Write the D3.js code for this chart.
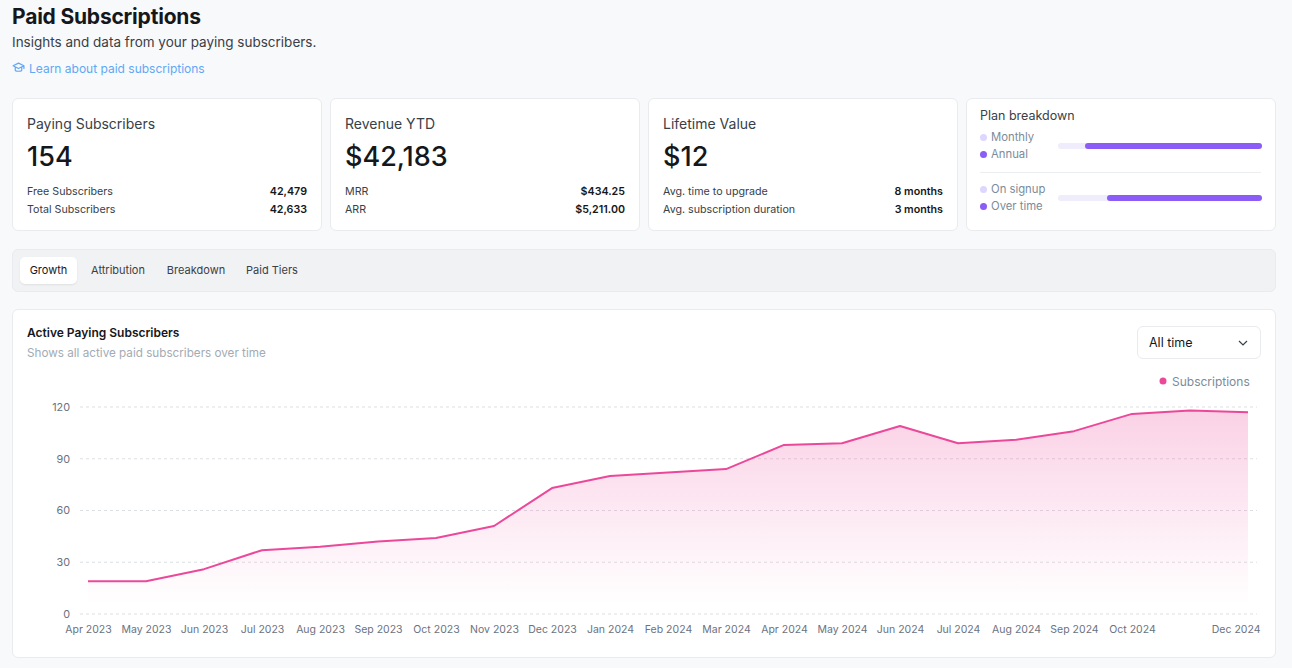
<!DOCTYPE html>
<html>
<head>
<meta charset="utf-8">
<script src="https://cdn.jsdelivr.net/npm/d3@7"></script>
<style>
  body { margin: 0; background: #f8f9fb; font-family: Inter, "Noto Sans", sans-serif; color: #15171a; }
  .page { position: relative; width: 1292px; height: 668px; overflow: hidden; }
  .abs { position: absolute; }
  h1 { position: absolute; left: 12px; top: 4px; margin: 0; font-size: 21px; font-weight: 700; letter-spacing: -0.2px; }
  .sub { left: 12px; top: 34px; font-size: 13.5px; color: #394047; }
  .link { left: 12px; top: 61px; font-size: 12px; color: #5fa8f5; }
  .card { background: #fff; border: 1px solid #e9ebee; border-radius: 6px; box-sizing: border-box; }
  .ctitle { font-size: 14px; color: #394047; }
  .big { font-size: 27px; font-weight: 500; color: #15171a; }
  .row { font-size: 10.7px; color: #394047; display: flex; justify-content: space-between; }
  .row b { font-weight: 600; color: #15171a; }
  .tabs { left: 12px; top: 249px; width: 1264px; height: 43px; background: #f1f2f4; border: 1px solid #e9ebee; border-radius: 6px; box-sizing: border-box; }
  .tab { position: absolute; top: 7px; height: 27px; line-height: 27px; font-size: 11px; color: #394047; text-align: center; }
  .tab.active { background: #fff; border-radius: 5px; box-shadow: 0 1px 2px rgba(0,0,0,0.08); color: #15171a; }
  .leg { font-size: 11.3px; color: #7c8b9a; }
  .dot { display: inline-block; width: 7px; height: 7px; border-radius: 50%; margin-right: 4px; vertical-align: 0; }
  svg.chart { position: absolute; left: 0; top: 0; }
</style>
</head>
<body>
<div class="page" id="page">
  <h1>Paid Subscriptions</h1>
  <div class="abs sub">Insights and data from your paying subscribers.</div>
  <div class="abs link">
    <svg width="13" height="12" viewBox="0 0 12 11" style="vertical-align:-1px;margin-right:4px"><path d="M6 1 L11 3.5 L6 6 L1 3.5 Z M3 4.6 V7.5 C3 8.8 9 8.8 9 7.5 V4.6 M11 3.5 V6.5" fill="none" stroke="#5fa8f5" stroke-width="1.1" stroke-linejoin="round"/></svg>Learn about paid subscriptions
  </div>
  <div id="cards"></div>
  <div class="abs tabs" id="tabs"></div>
  <div class="abs card" style="left:12px;top:309px;width:1264px;height:349px"></div>
  <div class="abs" style="left:27px;top:325px;font-size:12px;font-weight:600">Active Paying Subscribers</div>
  <div class="abs" style="left:27px;top:346px;font-size:11.7px;color:#a3abb4">Shows all active paid subscribers over time</div>
  <div class="abs card" style="left:1137px;top:326px;width:124px;height:33px;border-radius:6px;font-size:12.5px;line-height:31px;padding-left:11px">All time
    <svg width="10" height="6" style="position:absolute;right:12px;top:13px"><path d="M1 1 L5 5 L9 1" fill="none" stroke="#394047" stroke-width="1.2"/></svg>
  </div>
</div>
<script>
// stat cards
const statTitles = ['Paying Subscribers', 'Revenue YTD', 'Lifetime Value'];
const statValues = ['154', '$42,183', '$12'];
const statRowLabels = [
  ['Free Subscribers', 'Total Subscribers'],
  ['MRR', 'ARR'],
  ['Avg. time to upgrade', 'Avg. subscription duration']
];
const statRowValues = [
  ['42,479', '42,633'],
  ['$434.25', '$5,211.00'],
  ['8 months', '3 months']
];

// plan breakdown (share of the light segment, %)
const planGroups = [['Monthly', 'Annual'], ['On signup', 'Over time']];
const planLightShare = [13, 24];

const tabNames = ['Growth', 'Attribution', 'Breakdown', 'Paid Tiers'];

// chart data
const months = ['Apr 2023', 'May 2023', 'Jun 2023', 'Jul 2023', 'Aug 2023', 'Sep 2023', 'Oct 2023',
  'Nov 2023', 'Dec 2023', 'Jan 2024', 'Feb 2024', 'Mar 2024', 'Apr 2024', 'May 2024', 'Jun 2024',
  'Jul 2024', 'Aug 2024', 'Sep 2024', 'Oct 2024', 'Nov 2024', 'Dec 2024'];
const subscriptions = [19, 19, 26, 37, 39, 42, 44, 51, 73, 80, 82, 84, 98, 99, 109, 99, 101, 106, 116, 118, 117];
const yTicks = [0, 30, 60, 90, 120];

const pink = '#ec4899';
const page = d3.select('#page');

// cards
const cardW = 310, cardGap = 8;
statTitles.forEach((t, i) => {
  const c = page.append('div').attr('class', 'abs card')
    .style('left', (12 + i * (cardW + cardGap)) + 'px').style('top', '98px')
    .style('width', cardW + 'px').style('height', '133px');
  c.append('div').attr('class', 'abs ctitle').style('left', '14px').style('top', '16px').text(t);
  c.append('div').attr('class', 'abs big').style('left', '14px').style('top', '41px').text(statValues[i]);
  statRowLabels[i].forEach((l, j) => {
    const r = c.append('div').attr('class', 'abs row')
      .style('left', '14px').style('right', '14px').style('top', (86 + j * 18) + 'px');
    r.append('span').text(l);
    r.append('b').text(statRowValues[i][j]);
  });
});

const plan = page.append('div').attr('class', 'abs card')
  .style('left', '966px').style('top', '98px').style('width', '310px').style('height', '133px');
plan.append('div').attr('class', 'abs').style('left', '13px').style('top', '9px')
  .style('font-size', '12.5px').style('color', '#394047').text('Plan breakdown');
plan.append('div').attr('class', 'abs').style('left', '13px').style('right', '14px').style('top', '73px')
  .style('height', '1px').style('background', '#eceef0');

const barScale = d3.scaleLinear().domain([0, 100]).range([0, 204]);
planGroups.forEach((g, i) => {
  const top = 31 + i * 52;
  g.forEach((name, j) => {
    plan.append('div').attr('class', 'abs leg').style('left', '13px').style('top', (top + j * 17) + 'px')
      .html(`<span class="dot" style="background:${j ? '#8b5cf6' : '#ddd6fe'}"></span>${name}`);
  });
  const b = plan.append('div').attr('class', 'abs')
    .style('left', '91px').style('top', (top + 13) + 'px').style('width', barScale(100) + 'px')
    .style('height', '6px').style('border-radius', '3px').style('background', '#efecfb');
  b.append('div').attr('class', 'abs').style('left', barScale(planLightShare[i]) + 'px').style('top', 0)
    .style('width', (barScale(100) - barScale(planLightShare[i])) + 'px').style('height', '6px')
    .style('border-radius', '3px').style('background', '#8b5cf6');
});

// tabs
const tabLeft = [7, 70, 148, 226], tabWidth = [57, 70, 70, 66];
d3.select('#tabs').selectAll('div').data(tabNames).join('div')
  .attr('class', (d, i) => 'tab' + (i === 0 ? ' active' : ''))
  .style('left', (d, i) => tabLeft[i] + 'px').style('width', (d, i) => tabWidth[i] + 'px')
  .text((d) => d);

// chart
const margin = { left: 88, right: 1248, top: 407, bottom: 614 };
const svg = page.append('svg').attr('class', 'chart').attr('width', 1292).attr('height', 668);

const xScale = d3.scalePoint().domain(months).range([margin.left, margin.right]);
const yScale = d3.scaleLinear().domain([0, 120]).range([margin.bottom, margin.top]);

const grad = svg.append('defs').append('linearGradient').attr('id', 'fill')
  .attr('x1', 0).attr('y1', 0).attr('x2', 0).attr('y2', 1);
grad.append('stop').attr('offset', '0%').attr('stop-color', pink).attr('stop-opacity', 0.25);
grad.append('stop').attr('offset', '95%').attr('stop-color', pink).attr('stop-opacity', 0);

// grid
svg.append('g').selectAll('line').data(yTicks).join('line')
  .attr('x1', 80).attr('x2', 1257)
  .attr('y1', (d) => yScale(d)).attr('y2', (d) => yScale(d))
  .attr('stroke', '#dcdfe3').attr('stroke-dasharray', '3 3');

// y axis
const yAxis = svg.append('g').attr('transform', 'translate(70,0)')
  .call(d3.axisLeft(yScale).tickValues(yTicks).tickSize(0).tickPadding(0));
yAxis.select('.domain').remove();
yAxis.selectAll('text').attr('font-size', 10.8).attr('fill', '#6b7280').attr('font-family', 'Inter');

// x axis, Nov 2024 label skipped, last label kept inside
const xAxis = svg.append('g').attr('transform', `translate(0,${margin.bottom + 12})`)
  .call(d3.axisBottom(xScale).tickValues(months.filter((m) => m !== 'Nov 2024')).tickSize(0).tickPadding(0));
xAxis.select('.domain').remove();
xAxis.selectAll('text').attr('font-size', 10.5).attr('fill', '#6b7280').attr('font-family', 'Inter')
  .attr('dy', '0.71em')
  .filter((d) => d === 'Dec 2024').attr('text-anchor', 'end').attr('dx', 12);

const area = d3.area().x((d, i) => xScale(months[i])).y0(yScale(0)).y1((d) => yScale(d));
const line = d3.line().x((d, i) => xScale(months[i])).y((d) => yScale(d));

svg.append('path').datum(subscriptions).attr('d', area).attr('fill', 'url(#fill)');
svg.append('path').datum(subscriptions).attr('d', line)
  .attr('fill', 'none').attr('stroke', pink).attr('stroke-width', 2).attr('stroke-linejoin', 'round');

// legend
svg.append('circle').attr('cx', 1163).attr('cy', 381).attr('r', 3.5).attr('fill', pink);
svg.append('text').attr('x', 1172).attr('y', 385.5).attr('font-size', 12).attr('fill', '#7c8b9a')
  .attr('font-family', 'Inter').text('Subscriptions');
</script>
</body>
</html>
